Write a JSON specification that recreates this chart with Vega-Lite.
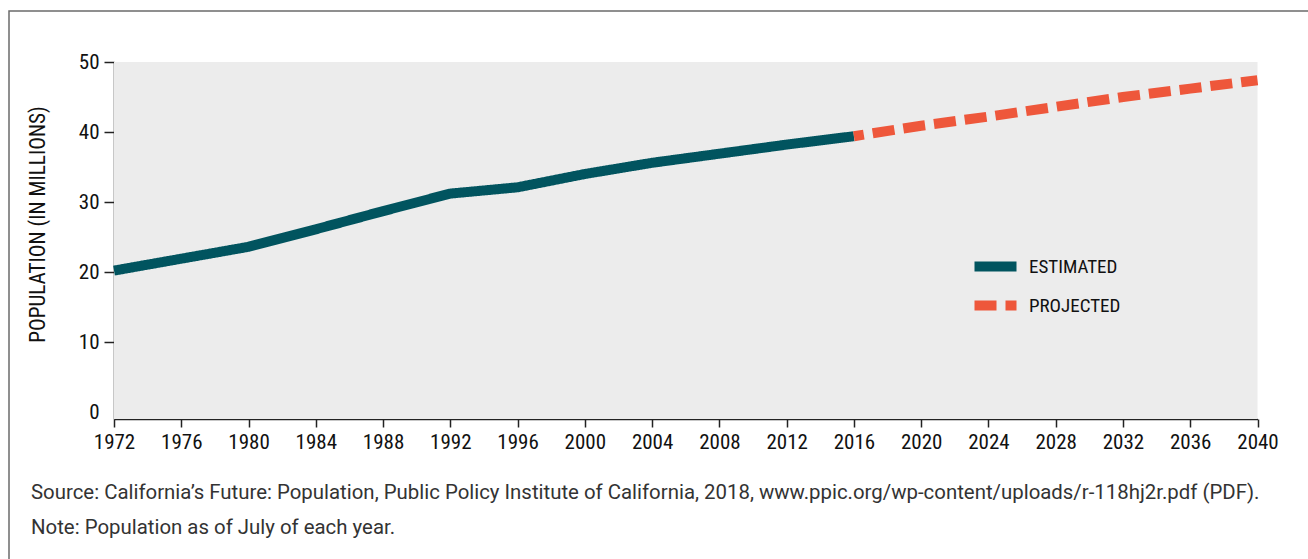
{
  "$schema": "https://vega.github.io/schema/vega-lite/v6.json",
  "width": 1320,
  "height": 600,
  "autosize": {"type": "none"},
  "padding": {"left": 9, "top": 11, "right": 0, "bottom": 0},
  "background": "white",
  "config": {
    "view": {"stroke": "#6b6b6b", "strokeWidth": 1.5, "fill": "white"},
    "font": "Roboto Condensed, Liberation Sans Narrow, DejaVu Sans Condensed, sans-serif",
    "axisX": {
      "orient": "bottom", "offset": -192, "title": null, "grid": false,
      "format": "d", "labelFlush": false, "labelOverlap": false,
      "domainColor": "#222222", "domainWidth": 1.5,
      "tickColor": "#222222", "tickWidth": 1.5, "tickSize": 8,
      "labelFontSize": 21, "labelColor": "#111111", "labelPadding": 4
    },
    "axisY": {
      "orient": "left", "offset": -105, "grid": false,
      "labelFlush": false,
      "titleX": -76, "titleY": 213, "titleAngle": -90,
      "titleAlign": "center", "titleBaseline": "middle",
      "titleFontSize": 21.2, "titleFontWeight": "normal", "titleColor": "#111111",
      "domainColor": "#222222", "domainWidth": 1.5,
      "tickWidth": 1.5, "tickSize": 10,
      "labelFontSize": 21, "labelColor": "#111111", "labelPadding": 5
    }
  },
  "title": {
    "text": [
      "Source: California’s Future: Population, Public Policy Institute of California, 2018, www.ppic.org/wp-content/uploads/r-118hj2r.pdf (PDF).",
      "Note: Population as of July of each year."
    ],
    "orient": "bottom",
    "anchor": "start",
    "frame": "group",
    "offset": -112,
    "dx": 22,
    "baseline": "alphabetic",
    "lineHeight": 35,
    "font": "Roboto",
    "fontSize": 20.4,
    "fontWeight": "normal",
    "color": "#333333"
  },
  "layer": [
    {
      "data": {"values": [{}]},
      "mark": {"type": "rect", "fill": "#ececec"},
      "encoding": {
        "x": {"datum": 1972, "type": "quantitative",
              "scale": {"domain": [1972, 2040], "range": [105, 1248.5], "nice": false, "zero": false},
              "axis": {"values": [1972, 1976, 1980, 1984, 1988, 1992, 1996, 2000, 2004, 2008, 2012, 2016, 2020, 2024, 2028, 2032, 2036, 2040], "title": null}},
        "x2": {"datum": 2040},
        "y": {"datum": -1, "type": "quantitative",
              "scale": {"domain": [-1, 50], "range": [408, 51], "nice": false, "zero": false},
              "axis": {"values": [0, 10, 20, 30, 40, 50], "title": "POPULATION (IN MILLIONS)",
                       "tickColor": {"condition": {"test": "datum.value === 0", "value": "transparent"}, "value": "#222222"}}},
        "y2": {"datum": 50}
      }
    },
    {
      "data": {
        "values": [
          {"year": 1972, "population": 20.2, "series": "ESTIMATED"},
          {"year": 1976, "population": 21.9, "series": "ESTIMATED"},
          {"year": 1980, "population": 23.6, "series": "ESTIMATED"},
          {"year": 1984, "population": 26.1, "series": "ESTIMATED"},
          {"year": 1988, "population": 28.7, "series": "ESTIMATED"},
          {"year": 1992, "population": 31.2, "series": "ESTIMATED"},
          {"year": 1996, "population": 32.1, "series": "ESTIMATED"},
          {"year": 2000, "population": 34.0, "series": "ESTIMATED"},
          {"year": 2004, "population": 35.6, "series": "ESTIMATED"},
          {"year": 2008, "population": 36.9, "series": "ESTIMATED"},
          {"year": 2012, "population": 38.2, "series": "ESTIMATED"},
          {"year": 2016, "population": 39.4, "series": "ESTIMATED"},
          {"year": 2016, "population": 39.4, "series": "PROJECTED"},
          {"year": 2020, "population": 40.9, "series": "PROJECTED"},
          {"year": 2024, "population": 42.2, "series": "PROJECTED"},
          {"year": 2028, "population": 43.6, "series": "PROJECTED"},
          {"year": 2032, "population": 45.0, "series": "PROJECTED"},
          {"year": 2036, "population": 46.2, "series": "PROJECTED"},
          {"year": 2040, "population": 47.4, "series": "PROJECTED"}
        ]
      },
      "mark": {"type": "line", "strokeWidth": 10, "strokeDashOffset": 12, "strokeCap": "butt"},
      "encoding": {
        "x": {
          "field": "year", "type": "quantitative",
          "scale": {"domain": [1972, 2040], "range": [105, 1248.5], "nice": false, "zero": false},
          "axis": {"values": [1972, 1976, 1980, 1984, 1988, 1992, 1996, 2000, 2004, 2008, 2012, 2016, 2020, 2024, 2028, 2032, 2036, 2040], "title": null}
        },
        "y": {
          "field": "population", "type": "quantitative",
          "scale": {"domain": [-1, 50], "range": [408, 51], "nice": false, "zero": false},
          "axis": {"values": [0, 10, 20, 30, 40, 50], "title": "POPULATION (IN MILLIONS)",
                   "tickColor": {"condition": {"test": "datum.value === 0", "value": "transparent"}, "value": "#222222"}}
        },
        "color": {
          "field": "series", "type": "nominal",
          "scale": {"domain": ["ESTIMATED", "PROJECTED"], "range": ["#01545f", "#ee573b"]},
          "legend": {
            "orient": "none", "legendX": 971, "legendY": 240,
            "title": null, "padding": 0,
            "symbolType": "M-2,0H2", "symbolSize": 441, "symbolStrokeWidth": 10,
            "labelFontSize": 19, "labelColor": "#111111", "labelOffset": 18,
            "rowPadding": -2,
            "encode": {
              "symbols": {
                "update": {
                  "strokeDash": {"signal": "datum.value === 'PROJECTED' ? [17, 7] : [1, 0]"},
                  "strokeDashOffset": {"value": 0}
                }
              }
            }
          }
        },
        "strokeDash": {
          "field": "series", "type": "nominal",
          "scale": {"domain": ["ESTIMATED", "PROJECTED"], "range": [[1, 0], [22, 9]]},
          "legend": null
        }
      }
    }
  ]
}
